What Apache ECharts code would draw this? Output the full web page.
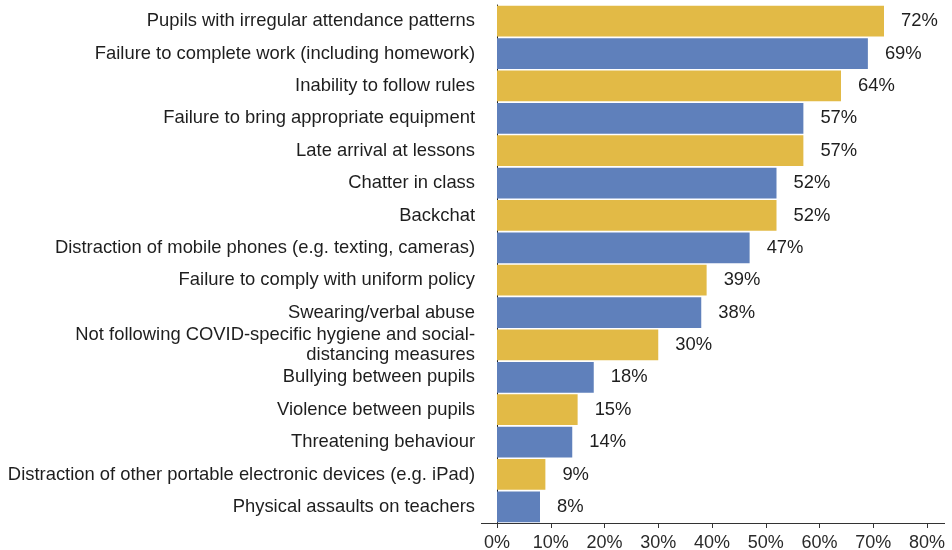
<!DOCTYPE html>
<html>
<head>
<meta charset="utf-8">
<script src="https://cdn.jsdelivr.net/npm/echarts@6/dist/echarts.min.js"></script>
<style>
  html, body { margin: 0; padding: 0; background: #fff; }
  #chart { width: 952px; height: 550px; }
</style>
</head>
<body>
<div id="chart"></div>
<script>
var categories = [
    'Pupils with irregular attendance patterns',
    'Failure to complete work (including homework)',
    'Inability to follow rules',
    'Failure to bring appropriate equipment',
    'Late arrival at lessons',
    'Chatter in class',
    'Backchat',
    'Distraction of mobile phones (e.g. texting, cameras)',
    'Failure to comply with uniform policy',
    'Swearing/verbal abuse',
    'Not following COVID-specific hygiene and social-\ndistancing measures',
    'Bullying between pupils',
    'Violence between pupils',
    'Threatening behaviour',
    'Distraction of other portable electronic devices (e.g. iPad)',
    'Physical assaults on teachers'
];
var values = [72, 69, 64, 57, 57, 52, 52, 47, 39, 38, 30, 18, 15, 14, 9, 8];
var xTicks = [0, 10, 20, 30, 40, 50, 60, 70, 80];

var yellow = '#E2BA46';
var blue = '#5F80BB';
var font = 'Liberation Sans, Arial, sans-serif';

var chart = echarts.init(document.getElementById('chart'));

// alternate yellow / blue
var barData = values.map(function (v, i) {
    return { value: v, itemStyle: { color: i % 2 === 0 ? yellow : blue } };
});

var option = {
    animation: false,
    grid: {
        left: 497,
        right: 25,
        top: 5,
        bottom: 27,
        containLabel: false,
        outerBoundsMode: 'none'
    },
    xAxis: {
        type: 'value',
        min: xTicks[0],
        max: xTicks[xTicks.length - 1],
        interval: 10,
        splitLine: { show: false },
        axisLine: { show: true, lineStyle: { color: '#333', width: 1 } },
        axisTick: { show: true, length: 5, lineStyle: { color: '#333' } },
        axisLabel: {
            color: '#2a2a2a',
            fontSize: 18,
            fontFamily: font,
            margin: 11,
            formatter: '{value}%'
        }
    },
    yAxis: {
        type: 'category',
        inverse: true,
        data: categories,
        axisLine: { show: true, lineStyle: { color: '#222', width: 1 } },
        axisTick: { show: false },
        axisLabel: {
            color: '#1e1e1e',
            fontSize: 18.4,
            fontFamily: font,
            margin: 22,
            lineHeight: 20,
            align: 'right'
        }
    },
    graphic: [{
        // the baseline runs a bit past both ends of the plot
        type: 'line',
        shape: { x1: 481, y1: 523.5, x2: 945, y2: 523.5 },
        style: { stroke: '#333', lineWidth: 1 },
        z: 10
    }],
    series: [{
        type: 'bar',
        data: barData,
        barCategoryGap: '5%',
        label: {
            show: true,
            position: 'right',
            distance: 17,
            color: '#1e1e1e',
            fontSize: 18.4,
            fontFamily: font,
            formatter: '{c}%'
        }
    }]
};

chart.setOption(option);
</script>
</body>
</html>
